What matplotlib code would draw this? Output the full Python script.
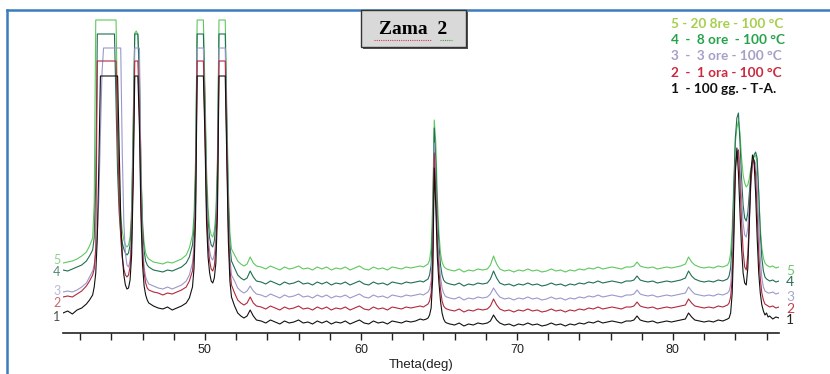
#!/usr/bin/env python3

import matplotlib
matplotlib.use("Agg")
import matplotlib.pyplot as plt
import matplotlib.ticker as mticker
from matplotlib.lines import Line2D
from matplotlib.patches import Rectangle

# 2-theta sampling points (deg)
theta = [
    40.9, 41.2, 41.5, 41.8, 42.1, 42.4, 42.6, 42.8,
    # first two reflections
    42.9, 43.0, 43.1, 43.2, 43.3, 43.4, 43.5, 43.6, 43.7, 43.8,
    43.9, 44.0, 44.1, 44.2, 44.3, 44.4, 44.5, 44.6, 44.7, 44.8,
    44.9, 45.0, 45.1, 45.2, 45.3, 45.4, 45.5, 45.6, 45.7, 45.8,
    45.9, 46.0, 46.1, 46.2, 46.3, 46.4,
    46.7, 47.0, 47.3, 47.6, 47.9, 48.2, 48.5, 48.8, 49.0, 49.2,
    # double peak around 50
    49.3, 49.4, 49.5, 49.6, 49.7, 49.8, 49.9, 50.0, 50.1, 50.2,
    50.3, 50.4, 50.5, 50.6, 50.7, 50.8, 50.9, 51.0, 51.1, 51.2,
    51.3, 51.4, 51.5, 51.6, 51.7,
    51.9, 52.1, 52.3, 52.5, 52.7, 52.9, 53.1, 53.3,
    53.6, 53.9, 54.2, 54.5, 54.8, 55.1, 55.4, 55.7, 56.0, 56.3,
    56.6, 56.9, 57.2, 57.5, 57.8, 58.1, 58.4, 58.7, 59.0, 59.3,
    59.6, 59.9, 60.2, 60.5, 60.8, 61.1, 61.4, 61.7, 62.0, 62.3,
    62.6, 62.9, 63.2, 63.5, 63.8, 64.0, 64.2,
    # peak near 65
    64.3, 64.4, 64.5, 64.6, 64.7, 64.8, 64.9, 65.0, 65.1, 65.2,
    65.3, 65.4, 65.5,
    65.7, 66.0, 66.3, 66.6, 66.9, 67.2, 67.5, 67.8, 68.1, 68.3,
    68.5, 68.7, 68.9, 69.2, 69.5, 69.8, 70.1, 70.4, 70.7, 71.0,
    71.3, 71.6, 71.9, 72.2, 72.5, 72.8, 73.1, 73.4, 73.7, 74.0,
    74.3, 74.6, 74.9, 75.2, 75.5, 75.8, 76.1, 76.4, 76.7, 77.0,
    77.3, 77.5, 77.7, 77.9, 78.1, 78.4, 78.7, 79.0, 79.3, 79.6,
    79.9, 80.2, 80.5, 80.8, 81.0, 81.2, 81.4, 81.7, 82.0, 82.3,
    82.6, 82.9, 83.2, 83.5,
    # double peak around 85
    83.6, 83.7, 83.8, 83.9, 84.0, 84.1, 84.2, 84.3, 84.4, 84.5,
    84.6, 84.7, 84.8, 84.9, 85.0, 85.1, 85.2, 85.3, 85.4, 85.5,
    85.6, 85.7, 85.8, 85.9, 86.0, 86.1, 86.2,
    86.4, 86.6, 86.8,
]

# Intensities (arb. units, already stacked as displayed)
int_1 = [
    20, 22, 19, 23, 25, 29, 33, 38,
    46, 60, 95, 170, 257, 257, 257, 257, 257, 257,
    257, 257, 257, 257, 257, 257, 185, 115, 78, 58,
    48, 44, 45, 53, 78, 150, 257, 257, 257, 205,
    115, 68, 47, 38, 33, 30,
    27, 25, 24, 26, 23, 25, 27, 30, 35, 46,
    65, 115, 257, 257, 257, 257, 257, 195, 112, 76,
    60, 52, 50, 55, 70, 118, 257, 257, 257, 257,
    257, 175, 92, 52, 36,
    27, 20, 17, 15, 17, 23, 17, 13,
    12, 10, 13, 11, 9, 12, 10, 11, 13, 10,
    11, 9, 12, 10, 12, 9, 11, 10, 12, 9,
    11, 13, 10, 9, 12, 10, 11, 9, 12, 11,
    10, 12, 11, 12, 14, 13, 14,
    15, 18, 25, 55, 165, 125, 75, 50, 32, 20,
    14, 11, 10,
    9, 8, 10, 7, 9, 8, 10, 9, 10, 12,
    18, 13, 10, 8, 9, 7, 9, 8, 10, 8,
    9, 7, 8, 10, 8, 9, 7, 9, 8, 10,
    9, 11, 10, 12, 10, 11, 12, 11, 10, 12,
    12, 13, 17, 13, 12, 11, 12, 10, 11, 12,
    11, 12, 13, 14, 20, 16, 13, 12, 11, 12,
    11, 13, 12, 14,
    15, 20, 40, 90, 160, 185, 160, 120, 85, 60,
    50, 48, 65, 110, 160, 178, 172, 140, 95, 60,
    40, 28, 22, 18, 20, 16, 17,
    14, 16, 15,
]

int_2 = [
    36, 37, 36, 39, 42, 47, 52, 58,
    64, 85, 272, 272, 272, 272, 272, 272, 272, 272,
    272, 272, 272, 272, 272, 200, 135, 95, 75, 64,
    58, 56, 58, 66, 92, 165, 272, 272, 272, 220,
    130, 82, 60, 50, 45, 43,
    41, 40, 38, 40, 39, 41, 43, 46, 52, 62,
    80, 130, 272, 272, 272, 272, 272, 205, 125, 88,
    72, 64, 62, 67, 84, 132, 272, 272, 272, 272,
    272, 185, 105, 64, 48,
    40, 33, 30, 28, 30, 36, 30, 27,
    26, 24, 27, 25, 23, 26, 24, 25, 27, 24,
    25, 23, 26, 24, 26, 23, 25, 24, 26, 23,
    25, 27, 24, 23, 26, 24, 25, 23, 26, 25,
    24, 26, 25, 26, 27, 26, 28,
    29, 32, 40, 70, 180, 140, 88, 62, 44, 32,
    27, 25, 24,
    23, 22, 24, 21, 23, 22, 24, 23, 24, 27,
    34, 28, 24, 22, 23, 21, 23, 22, 24, 22,
    23, 21, 22, 24, 22, 23, 21, 23, 22, 24,
    23, 25, 24, 26, 24, 25, 26, 25, 24, 26,
    26, 27, 31, 27, 26, 25, 26, 24, 25, 26,
    25, 26, 27, 28, 34, 30, 27, 26, 25, 26,
    25, 27, 26, 28,
    30, 36, 55, 105, 165, 180, 183, 150, 112, 82,
    66, 63, 78, 115, 150, 170, 173, 160, 120, 80,
    55, 40, 33, 29, 28, 27, 26,
    27, 25, 26,
]

int_3 = [
    41, 42, 41, 43, 46, 50, 56, 62,
    68, 80, 100, 135, 200, 260, 285, 285, 285, 285,
    285, 285, 285, 285, 285, 285, 285, 285, 180, 110,
    80, 68, 66, 72, 100, 180, 285, 285, 285, 285,
    150, 90, 66, 56, 52, 49,
    47, 45, 44, 46, 44, 46, 48, 52, 58, 70,
    88, 140, 285, 285, 285, 285, 285, 215, 135, 98,
    82, 75, 73, 78, 95, 145, 285, 285, 285, 285,
    285, 195, 115, 75, 58,
    52, 45, 42, 40, 42, 47, 42, 39,
    38, 36, 39, 37, 35, 38, 36, 37, 39, 36,
    37, 35, 38, 36, 38, 35, 37, 36, 38, 35,
    37, 39, 36, 35, 38, 36, 37, 35, 38, 37,
    36, 38, 37, 38, 39, 38, 40,
    41, 44, 52, 85, 190, 150, 100, 74, 56, 45,
    40, 37, 36,
    35, 34, 36, 33, 35, 34, 36, 35, 36, 39,
    45, 40, 36, 34, 35, 33, 35, 34, 36, 34,
    35, 33, 34, 36, 34, 35, 33, 35, 34, 36,
    35, 37, 36, 38, 36, 37, 38, 37, 36, 38,
    38, 39, 43, 39, 38, 37, 38, 36, 37, 38,
    37, 38, 39, 40, 46, 42, 39, 38, 37, 38,
    37, 39, 38, 40,
    42, 48, 70, 120, 170, 178, 183, 165, 135, 110,
    98, 96, 105, 130, 155, 168, 172, 170, 150, 110,
    75, 55, 46, 42, 41, 40, 40,
    41, 39, 40,
]

int_4 = [
    63, 62, 64, 66, 68, 72, 77, 83,
    95, 150, 299, 299, 299, 299, 299, 299, 299, 299,
    299, 299, 299, 299, 230, 160, 120, 100, 90, 84,
    80, 78, 80, 88, 115, 200, 299, 299, 299, 260,
    160, 105, 82, 72, 68, 66,
    63, 62, 61, 63, 62, 64, 66, 70, 76, 88,
    105, 160, 299, 299, 299, 299, 299, 230, 150, 112,
    95, 88, 86, 92, 110, 160, 299, 299, 299, 299,
    299, 210, 130, 88, 72,
    65, 58, 55, 53, 55, 62, 56, 52,
    51, 49, 52, 50, 48, 51, 49, 50, 52, 49,
    50, 48, 51, 49, 51, 48, 50, 49, 51, 48,
    50, 52, 49, 48, 51, 49, 50, 48, 51, 50,
    49, 51, 50, 51, 52, 51, 53,
    54, 58, 68, 110, 205, 170, 118, 88, 68, 58,
    53, 51, 50,
    49, 48, 50, 47, 49, 48, 50, 49, 50, 54,
    62, 55, 50, 48, 49, 47, 49, 48, 50, 48,
    49, 47, 48, 50, 48, 49, 47, 49, 48, 50,
    49, 51, 50, 52, 50, 51, 52, 51, 50, 52,
    52, 53, 57, 53, 52, 51, 52, 50, 51, 52,
    51, 52, 53, 55, 62, 57, 54, 52, 51, 52,
    51, 53, 52, 54,
    57, 65, 90, 140, 195, 215, 220, 190, 155, 128,
    115, 112, 120, 140, 160, 172, 178, 181, 175, 140,
    100, 75, 62, 56, 54, 53, 52,
    53, 51, 52,
]

int_5 = [
    70, 71, 72, 74, 77, 81, 87, 95,
    130, 313, 313, 313, 313, 313, 313, 313, 313, 313,
    313, 313, 313, 313, 313, 220, 150, 118, 102, 93,
    88, 86, 88, 96, 125, 210, 300, 302, 298, 250,
    165, 112, 90, 80, 76, 74,
    71, 70, 69, 71, 70, 72, 74, 78, 85, 98,
    118, 175, 313, 313, 313, 313, 313, 245, 165, 125,
    105, 98, 96, 102, 120, 175, 313, 313, 313, 313,
    313, 225, 145, 100, 84,
    78, 72, 69, 67, 69, 76, 70, 67,
    66, 64, 67, 65, 63, 66, 64, 65, 67, 64,
    65, 63, 66, 64, 66, 63, 65, 64, 66, 63,
    65, 67, 64, 63, 66, 64, 65, 63, 66, 65,
    64, 66, 65, 66, 67, 66, 68,
    69, 73, 85, 130, 213, 190, 135, 100, 80, 71,
    67, 65, 64,
    63, 62, 64, 61, 63, 62, 64, 63, 64, 68,
    77, 69, 64, 62, 63, 61, 63, 62, 64, 62,
    63, 61, 62, 64, 62, 63, 61, 63, 62, 64,
    63, 65, 64, 66, 64, 65, 66, 65, 64, 66,
    66, 67, 71, 67, 66, 65, 66, 64, 65, 66,
    65, 66, 67, 69, 76, 71, 68, 66, 65, 66,
    65, 67, 66, 68,
    71, 80, 105, 150, 190, 205, 212, 200, 175, 158,
    150, 146, 148, 155, 165, 172, 176, 178, 170, 140,
    105, 85, 75, 70, 68, 67, 66,
    67, 65, 66,
]

series = [int_5, int_4, int_3, int_2, int_1]
curve_ids = ['5', '4', '3', '2', '1']
line_colors = ['#5ec85e', '#1f6f52', '#9a98cc', '#b3283c', '#111111']
tag_colors = ['#72c672', '#2b6e55', '#a9a7cf', '#c0404e', '#222222']

legend_lines = [
    '5 - 20 8re - 100 °C',
    '4  -  8 ore  - 100 °C',
    '3  -  3 ore - 100 °C',
    '2  -  1 ora - 100 °C',
    '1  - 100 gg. - T-A.',
]
legend_colors = ['#a7cf4e', '#27a24c', '#a4a0c8', '#cc2a3e', '#111111']

# label positions next to the curve ends (arb. units)
right_tag_y = [62, 51, 36, 24, 13]
left_tag_y = [73, 61, 42, 30, 16]

fig = plt.figure(figsize=(8.3, 3.74), dpi=100)
ax = fig.add_axes([63 / 830, 41 / 374, 716 / 830, 321 / 374])

for vals, col in zip(series, line_colors):
    ax.plot(theta, vals, '-', color=col, lw=0.8)

ax.set_xlim(40.9, 86.8)
ax.set_ylim(0, 321)

for spine in ('left', 'right', 'top'):
    ax.spines[spine].set_visible(False)
ax.spines['bottom'].set_color('#222222')
ax.spines['bottom'].set_linewidth(1.2)

ax.yaxis.set_visible(False)
ax.xaxis.set_major_locator(mticker.MultipleLocator(10))
ax.xaxis.set_minor_locator(mticker.MultipleLocator(2))
ax.tick_params(axis='x', which='both', length=5, width=1, color='#222222',
               direction='out', pad=3)
for lbl in ax.get_xticklabels():
    lbl.set_family('Liberation Sans')
    lbl.set_fontsize(9)
    lbl.set_color('#222222')

ax.set_xlabel('Theta(deg)', family='Liberation Sans',
              fontsize=9.5, color='#222222', labelpad=2)

# curve numbers at both ends
for cid, col, yr, yl in zip(curve_ids, tag_colors, right_tag_y, left_tag_y):
    ax.text(87.5, yr, cid, color=col, fontsize=10, family='Lato',
            ha='center', va='center', clip_on=False)
    ax.text(40.5, yl, cid, color=col, fontsize=9, family='Lato',
            ha='center', va='center', clip_on=False, alpha=0.8)

# legend block (top right)
for i, (txt, col) in enumerate(zip(legend_lines, legend_colors)):
    fig.text(671 / 830, 1 - (24 + 16.2 * i) / 374, txt, color=col,
             fontsize=9.8, family='Lato', weight='bold', va='center', ha='left')

# title box
fig.add_artist(Rectangle((363 / 830, 1 - 49 / 374), 105 / 830, 37 / 374,
                         transform=fig.transFigure, facecolor='#555555',
                         edgecolor='none', zorder=4))
fig.add_artist(Rectangle((361 / 830, 1 - 47 / 374), 105 / 830, 37 / 374,
                         transform=fig.transFigure, facecolor='#d9d9d9',
                         edgecolor='#333333', lw=1.0, zorder=5))
fig.text(413 / 830, 1 - 30 / 374, 'Zama  2', family='Liberation Serif',
         weight='bold', fontsize=14, ha='center', va='center', zorder=6)
fig.add_artist(Line2D([374 / 830, 431 / 830], [1 - 40 / 374, 1 - 40 / 374],
                      transform=fig.transFigure, color='#d04050', lw=0.8,
                      ls=(0, (1, 1)), zorder=6))
fig.add_artist(Line2D([440 / 830, 452 / 830], [1 - 40 / 374, 1 - 40 / 374],
                      transform=fig.transFigure, color='#40a040', lw=0.8,
                      ls=(0, (1, 1)), zorder=6))

# blue frame (left + top)
fig.add_artist(Line2D([7 / 830, 7 / 830], [0, 1 - 10 / 374],
                      transform=fig.transFigure, color='#3a7cbd', lw=1.8))
fig.add_artist(Line2D([7 / 830, 1], [1 - 10 / 374, 1 - 10 / 374],
                      transform=fig.transFigure, color='#3a7cbd', lw=1.8))

fig.savefig('out.png', dpi=100)
